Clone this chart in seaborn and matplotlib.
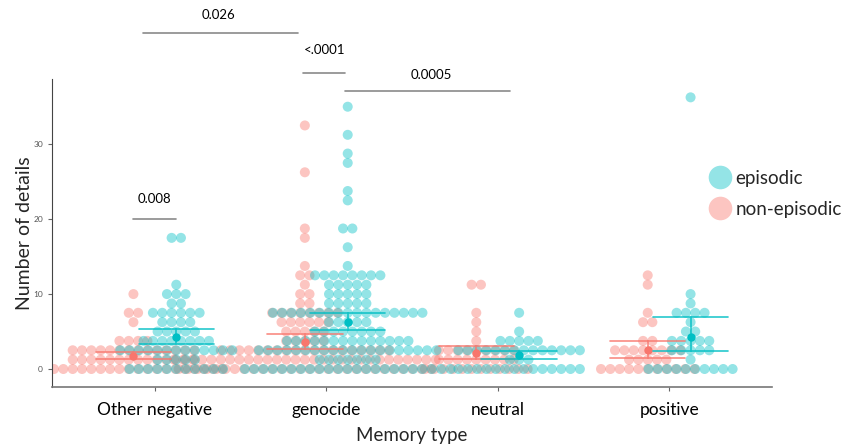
import numpy as np
import pandas as pd
import matplotlib
matplotlib.use("Agg")
import matplotlib.pyplot as plt
import seaborn as sns
from matplotlib.lines import Line2D

categories = ["Other negative", "genocide", "neutral", "positive"]
groups = ["non-episodic", "episodic"]

# binned "Number of details" values and number of dots in each bin, per group
othneg_non_vals = [0, 1.25, 2.5, 3.75, 6.25, 7.5, 10]
othneg_non_cnts = [20, 14, 14, 4, 1, 2, 1]
othneg_epi_vals = [0, 1.25, 2.5, 3.75, 5, 6.25, 7.5, 8.75, 10, 11.25, 17.5]
othneg_epi_cnts = [11, 5, 13, 8, 5, 4, 6, 2, 3, 1, 2]
geno_non_vals = [0, 1.25, 2.5, 3.75, 5, 6.25, 7.5, 8.75, 10, 11.25, 12.5, 13.75, 17.5, 18.75, 26.25, 32.5]
geno_non_cnts = [28, 29, 19, 5, 5, 6, 8, 2, 2, 1, 2, 1, 1, 1, 1, 1]
geno_epi_vals = [0, 1.25, 2.5, 3.75, 5, 6.25, 7.5, 8.75, 10, 11.25, 12.5, 13.75, 16.25, 18.75, 22.5, 23.75, 27.5, 28.75, 31.25, 35]
geno_epi_cnts = [23, 7, 20, 14, 8, 5, 17, 5, 5, 5, 8, 1, 1, 2, 1, 1, 1, 1, 1, 1]
neut_non_vals = [0, 1.25, 2.5, 3.75, 5, 6.25, 7.5, 11.25]
neut_non_cnts = [12, 9, 9, 1, 1, 1, 1, 2]
neut_epi_vals = [0, 1.25, 2.5, 3.75, 5, 7.5]
neut_epi_cnts = [14, 3, 14, 5, 1, 1]
pos_non_vals = [0, 1.25, 2.5, 3.75, 6.25, 7.5, 11.25, 12.5]
pos_non_cnts = [11, 5, 8, 2, 2, 1, 1, 1]
pos_epi_vals = [0, 1.25, 2.5, 3.75, 5, 6.25, 7.5, 8.75, 10, 36.25]
pos_epi_cnts = [10, 1, 5, 5, 2, 1, 4, 1, 1, 1]

series = {
    ("Other negative", "non-episodic"): (othneg_non_vals, othneg_non_cnts),
    ("Other negative", "episodic"): (othneg_epi_vals, othneg_epi_cnts),
    ("genocide", "non-episodic"): (geno_non_vals, geno_non_cnts),
    ("genocide", "episodic"): (geno_epi_vals, geno_epi_cnts),
    ("neutral", "non-episodic"): (neut_non_vals, neut_non_cnts),
    ("neutral", "episodic"): (neut_epi_vals, neut_epi_cnts),
    ("positive", "non-episodic"): (pos_non_vals, pos_non_cnts),
    ("positive", "episodic"): (pos_epi_vals, pos_epi_cnts),
}

# significance annotations
sig_labels = ["0.026", "<.0001", "0.0005", "0.008"]
sig_x0 = [-0.07, 0.865, 1.11, -0.125]
sig_x1 = [0.835, 1.11, 2.07, 0.125]
sig_y = [44.8, 39.5, 37.1, 20.0]
sig_tx = [0.37, 0.99, 1.615, 0.0]
sig_ty = [46.4, 41.8, 38.4, 21.9]

pal_full = {"non-episodic": "#F8766D", "episodic": "#00BFC4"}
DODGE = 0.25
STEP = 0.0545  # horizontal dot spacing (one dot diameter, category units)

# build the observation table and dot-stack positions (centred stacks, like a dotplot)
rows = []
for g in groups:  # pink first, teal drawn on top
    for ci, cat in enumerate(categories):
        vals, cnts = series[(cat, g)]
        centre = ci + (-DODGE / 2 if g == "non-episodic" else DODGE / 2)
        for v, n in zip(vals, cnts):
            offs = (np.arange(n) - (n - 1) / 2) * STEP
            for o in offs:
                rows.append({"category": cat, "type": g, "value": v, "xpos": centre + o})
df = pd.DataFrame(rows)

sns.set_style("white")
plt.rcParams["font.family"] = ["Lato", "DejaVu Sans"]

fig = plt.figure(figsize=(8.44, 4.46), dpi=100)
ax = fig.add_axes([0.0616, 0.1323, 0.8531, 0.6906])

sns.scatterplot(data=df, x="xpos", y="value", hue="type", palette=pal_full,
                alpha=0.42, s=52, linewidth=0, legend=False, ax=ax, zorder=2)

sns.pointplot(data=df, x="category", y="value", hue="type", order=categories,
              hue_order=groups, palette=pal_full, dodge=DODGE, linestyle="none",
              errorbar=("ci", 95), n_boot=1000, seed=7, capsize=0.44,
              err_kws={"linewidth": 1.2, "alpha": 0.85}, marker="o", markersize=4,
              legend=False, ax=ax)

ax.set_xlim(-0.6, 3.6)
ax.set_ylim(-2.4, 38.7)
ax.set_xticks(range(len(categories)))
ax.set_xticklabels(categories, fontsize=12.5, color="black")
ax.set_yticks([0, 10, 20, 30])
ax.set_yticklabels(["0", "10", "20", "30"], fontsize=6, color="#555555")
ax.tick_params(axis="both", length=3, width=0.8, color="#666666", bottom=True, left=True)
ax.tick_params(axis="x", pad=8)
ax.set_xlabel("Memory type", fontsize=13.5, labelpad=6)
ax.set_ylabel("Number of details", fontsize=14, labelpad=0)
for sp in ["top", "right"]:
    ax.spines[sp].set_visible(False)
ax.spines["left"].set_color("#444444")
ax.spines["left"].set_linewidth(0.8)
ax.spines["bottom"].set_color("#777777")
ax.spines["bottom"].set_linewidth(1.2)

for lab, x0, x1, yl, tx, ty in zip(sig_labels, sig_x0, sig_x1, sig_y, sig_tx, sig_ty):
    ax.plot([x0, x1], [yl, yl], color="#8a8a8a", lw=1.2, clip_on=False, zorder=5)
    ax.text(tx, ty, lab, ha="center", va="bottom", fontsize=9.5, color="black", clip_on=False)

handles = [
    Line2D([], [], marker="o", linestyle="none", markersize=17, markeredgewidth=0,
           markerfacecolor=pal_full["episodic"], alpha=0.42),
    Line2D([], [], marker="o", linestyle="none", markersize=17, markeredgewidth=0,
           markerfacecolor=pal_full["non-episodic"], alpha=0.42),
]
fig.legend(handles, ["episodic", "non-episodic"], loc="center left",
           bbox_to_anchor=(0.818, 0.566), frameon=False, fontsize=13.5,
           handletextpad=0.1, labelspacing=0.75, handlelength=1.4)

fig.savefig("out.png", dpi=100)
